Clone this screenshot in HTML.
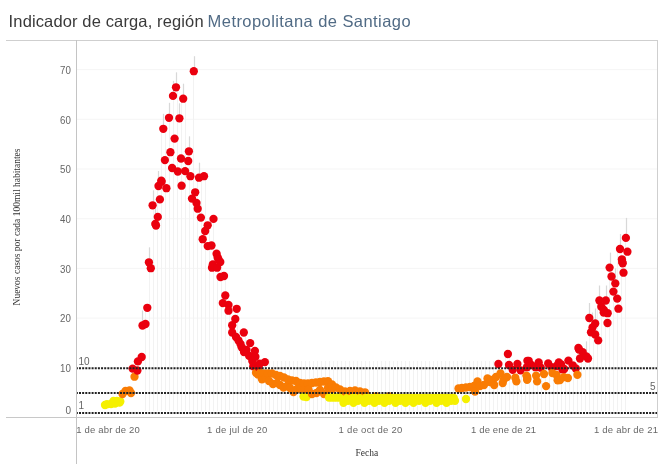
<!DOCTYPE html>
<html><head><meta charset="utf-8"><style>
html,body{margin:0;padding:0;background:#fff;}
body{width:664px;height:474px;overflow:hidden;position:relative;}
svg{position:absolute;left:0;top:0;}
.t{font-family:"Liberation Sans",sans-serif;}
.s{font-family:"Liberation Serif",serif;}
</style></head><body>
<svg width="664" height="474" viewBox="0 0 664 474">
<text class="t" x="8.6" y="26.8" font-size="16.5" fill="#3a3a3a" textLength="195" lengthAdjust="spacing">Indicador de carga, región</text>
<text class="t" x="207.6" y="26.8" font-size="16.5" fill="#516b85" textLength="203" lengthAdjust="spacing">Metropolitana de Santiago</text>
<line x1="6" y1="40.5" x2="658" y2="40.5" stroke="#cfcfcf" stroke-width="1"/>
<line x1="77" y1="367.8" x2="657" y2="367.8" stroke="#f5f5f5" stroke-width="1"/>
<line x1="77" y1="318.1" x2="657" y2="318.1" stroke="#f5f5f5" stroke-width="1"/>
<line x1="77" y1="268.4" x2="657" y2="268.4" stroke="#f5f5f5" stroke-width="1"/>
<line x1="77" y1="218.7" x2="657" y2="218.7" stroke="#f5f5f5" stroke-width="1"/>
<line x1="77" y1="169.0" x2="657" y2="169.0" stroke="#f5f5f5" stroke-width="1"/>
<line x1="77" y1="119.3" x2="657" y2="119.3" stroke="#f5f5f5" stroke-width="1"/>
<line x1="77" y1="69.6" x2="657" y2="69.6" stroke="#f5f5f5" stroke-width="1"/>
<g stroke="#f2f2f2" stroke-width="1"><line x1="145.5" y1="307.8" x2="145.5" y2="411"/><line x1="149.5" y1="262.3" x2="149.5" y2="411"/><line x1="153.5" y1="205.3" x2="153.5" y2="411"/><line x1="157.5" y1="186.0" x2="157.5" y2="411"/><line x1="161.5" y1="128.8" x2="161.5" y2="411"/><line x1="165.5" y1="128.8" x2="165.5" y2="411"/><line x1="169.5" y1="117.8" x2="169.5" y2="411"/><line x1="173.5" y1="87.3" x2="173.5" y2="411"/><line x1="177.5" y1="87.3" x2="177.5" y2="411"/><line x1="181.5" y1="98.7" x2="181.5" y2="411"/><line x1="185.5" y1="98.7" x2="185.5" y2="411"/><line x1="189.5" y1="151.3" x2="189.5" y2="411"/><line x1="193.5" y1="71.2" x2="193.5" y2="411"/><line x1="197.5" y1="177.7" x2="197.5" y2="411"/><line x1="201.5" y1="176.2" x2="201.5" y2="411"/><line x1="205.5" y1="176.2" x2="205.5" y2="411"/><line x1="209.5" y1="225.3" x2="209.5" y2="411"/><line x1="213.5" y1="218.9" x2="213.5" y2="411"/><line x1="217.5" y1="253.7" x2="217.5" y2="411"/><line x1="221.5" y1="262.0" x2="221.5" y2="411"/><line x1="225.5" y1="276.0" x2="225.5" y2="411"/><line x1="229.5" y1="305.0" x2="229.5" y2="411"/><line x1="233.5" y1="319.0" x2="233.5" y2="411"/><line x1="237.5" y1="308.8" x2="237.5" y2="411"/><line x1="241.5" y1="332.5" x2="241.5" y2="411"/><line x1="245.5" y1="332.5" x2="245.5" y2="411"/><line x1="249.5" y1="343.1" x2="249.5" y2="411"/><line x1="253.5" y1="351.0" x2="253.5" y2="411"/><line x1="257.5" y1="351.0" x2="257.5" y2="411"/><line x1="261.5" y1="363.7" x2="261.5" y2="411"/><line x1="265.5" y1="361.0" x2="265.5" y2="411"/><line x1="269.5" y1="361.0" x2="269.5" y2="411"/><line x1="273.5" y1="361.0" x2="273.5" y2="411"/><line x1="277.5" y1="361.0" x2="277.5" y2="411"/><line x1="281.5" y1="361.0" x2="281.5" y2="411"/><line x1="285.5" y1="361.0" x2="285.5" y2="411"/><line x1="289.5" y1="361.0" x2="289.5" y2="411"/><line x1="293.5" y1="361.0" x2="293.5" y2="411"/><line x1="297.5" y1="361.0" x2="297.5" y2="411"/><line x1="301.5" y1="361.0" x2="301.5" y2="411"/><line x1="305.5" y1="361.0" x2="305.5" y2="411"/><line x1="309.5" y1="361.0" x2="309.5" y2="411"/><line x1="313.5" y1="361.0" x2="313.5" y2="411"/><line x1="317.5" y1="361.0" x2="317.5" y2="411"/><line x1="321.5" y1="361.0" x2="321.5" y2="411"/><line x1="325.5" y1="361.0" x2="325.5" y2="411"/><line x1="329.5" y1="361.0" x2="329.5" y2="411"/><line x1="333.5" y1="361.0" x2="333.5" y2="411"/><line x1="337.5" y1="361.0" x2="337.5" y2="411"/><line x1="341.5" y1="361.0" x2="341.5" y2="411"/><line x1="345.5" y1="361.0" x2="345.5" y2="411"/><line x1="349.5" y1="361.0" x2="349.5" y2="411"/><line x1="353.5" y1="361.0" x2="353.5" y2="411"/><line x1="357.5" y1="361.0" x2="357.5" y2="411"/><line x1="361.5" y1="361.0" x2="361.5" y2="411"/><line x1="365.5" y1="361.0" x2="365.5" y2="411"/><line x1="369.5" y1="361.0" x2="369.5" y2="411"/><line x1="373.5" y1="361.0" x2="373.5" y2="411"/><line x1="377.5" y1="361.0" x2="377.5" y2="411"/><line x1="381.5" y1="361.0" x2="381.5" y2="411"/><line x1="385.5" y1="361.0" x2="385.5" y2="411"/><line x1="389.5" y1="361.0" x2="389.5" y2="411"/><line x1="393.5" y1="361.0" x2="393.5" y2="411"/><line x1="397.5" y1="361.0" x2="397.5" y2="411"/><line x1="401.5" y1="361.0" x2="401.5" y2="411"/><line x1="405.5" y1="361.0" x2="405.5" y2="411"/><line x1="409.5" y1="361.0" x2="409.5" y2="411"/><line x1="413.5" y1="361.0" x2="413.5" y2="411"/><line x1="417.5" y1="361.0" x2="417.5" y2="411"/><line x1="421.5" y1="361.0" x2="421.5" y2="411"/><line x1="425.5" y1="361.0" x2="425.5" y2="411"/><line x1="429.5" y1="361.0" x2="429.5" y2="411"/><line x1="433.5" y1="361.0" x2="433.5" y2="411"/><line x1="437.5" y1="361.0" x2="437.5" y2="411"/><line x1="441.5" y1="361.0" x2="441.5" y2="411"/><line x1="445.5" y1="361.0" x2="445.5" y2="411"/><line x1="449.5" y1="361.0" x2="449.5" y2="411"/><line x1="453.5" y1="361.0" x2="453.5" y2="411"/><line x1="457.5" y1="361.0" x2="457.5" y2="411"/><line x1="461.5" y1="361.0" x2="461.5" y2="411"/><line x1="465.5" y1="361.0" x2="465.5" y2="411"/><line x1="469.5" y1="361.0" x2="469.5" y2="411"/><line x1="473.5" y1="361.0" x2="473.5" y2="411"/><line x1="477.5" y1="361.0" x2="477.5" y2="411"/><line x1="481.5" y1="361.0" x2="481.5" y2="411"/><line x1="485.5" y1="361.0" x2="485.5" y2="411"/><line x1="489.5" y1="361.0" x2="489.5" y2="411"/><line x1="493.5" y1="361.0" x2="493.5" y2="411"/><line x1="497.5" y1="361.0" x2="497.5" y2="411"/><line x1="501.5" y1="373.5" x2="501.5" y2="411"/><line x1="505.5" y1="354.0" x2="505.5" y2="411"/><line x1="509.5" y1="354.0" x2="509.5" y2="411"/><line x1="513.5" y1="369.8" x2="513.5" y2="411"/><line x1="517.5" y1="364.0" x2="517.5" y2="411"/><line x1="521.5" y1="370.3" x2="521.5" y2="411"/><line x1="525.5" y1="360.8" x2="525.5" y2="411"/><line x1="529.5" y1="360.8" x2="529.5" y2="411"/><line x1="533.5" y1="365.0" x2="533.5" y2="411"/><line x1="537.5" y1="362.4" x2="537.5" y2="411"/><line x1="541.5" y1="367.7" x2="541.5" y2="411"/><line x1="545.5" y1="374.0" x2="545.5" y2="411"/><line x1="549.5" y1="363.5" x2="549.5" y2="411"/><line x1="553.5" y1="367.2" x2="553.5" y2="411"/><line x1="557.5" y1="362.4" x2="557.5" y2="411"/><line x1="561.5" y1="364.3" x2="561.5" y2="411"/><line x1="565.5" y1="369.0" x2="565.5" y2="411"/><line x1="569.5" y1="360.6" x2="569.5" y2="411"/><line x1="573.5" y1="365.3" x2="573.5" y2="411"/><line x1="577.5" y1="348.0" x2="577.5" y2="411"/><line x1="581.5" y1="349.5" x2="581.5" y2="411"/><line x1="585.5" y1="356.4" x2="585.5" y2="411"/><line x1="589.5" y1="318.0" x2="589.5" y2="411"/><line x1="593.5" y1="323.5" x2="593.5" y2="411"/><line x1="597.5" y1="300.5" x2="597.5" y2="411"/><line x1="601.5" y1="300.5" x2="601.5" y2="411"/><line x1="605.5" y1="300.5" x2="605.5" y2="411"/><line x1="609.5" y1="267.6" x2="609.5" y2="411"/><line x1="613.5" y1="276.5" x2="613.5" y2="411"/><line x1="617.5" y1="249.0" x2="617.5" y2="411"/><line x1="621.5" y1="249.0" x2="621.5" y2="411"/><line x1="625.5" y1="237.9" x2="625.5" y2="411"/></g>
<g stroke="#d8d8d8" stroke-width="1.2"><line x1="142.5" y1="310.5" x2="142.5" y2="325.5"/><line x1="149.5" y1="247.3" x2="149.5" y2="262.3"/><line x1="153.5" y1="190.3" x2="153.5" y2="205.3"/><line x1="155.5" y1="208.9" x2="155.5" y2="223.9"/><line x1="158.5" y1="171.0" x2="158.5" y2="186.0"/><line x1="163.5" y1="113.8" x2="163.5" y2="128.8"/><line x1="169.5" y1="102.8" x2="169.5" y2="117.8"/><line x1="173.5" y1="80.9" x2="173.5" y2="95.9"/><line x1="176.5" y1="72.3" x2="176.5" y2="87.3"/><line x1="179.5" y1="103.3" x2="179.5" y2="118.3"/><line x1="183.5" y1="83.7" x2="183.5" y2="98.7"/><line x1="189.5" y1="136.3" x2="189.5" y2="151.3"/><line x1="194.5" y1="56.2" x2="194.5" y2="71.2"/><line x1="199.5" y1="162.7" x2="199.5" y2="177.7"/><line x1="586.5" y1="341.4" x2="586.5" y2="356.4"/><line x1="589.5" y1="303.0" x2="589.5" y2="318.0"/><line x1="592.5" y1="312.5" x2="592.5" y2="327.5"/><line x1="595.5" y1="308.5" x2="595.5" y2="323.5"/><line x1="599.5" y1="285.5" x2="599.5" y2="300.5"/><line x1="606.5" y1="285.5" x2="606.5" y2="300.5"/><line x1="610.5" y1="252.6" x2="610.5" y2="267.6"/><line x1="615.5" y1="268.4" x2="615.5" y2="283.4"/><line x1="620.5" y1="234.0" x2="620.5" y2="249.0"/><line x1="626.5" y1="217.9" x2="626.5" y2="237.9"/></g>
<g>
<circle cx="105" cy="405" r="4.15" fill="#f5f000"/>
<circle cx="107" cy="404.2" r="4.15" fill="#f5f000"/>
<circle cx="111" cy="404" r="4.15" fill="#f5f000"/>
<circle cx="113.5" cy="401" r="4.15" fill="#f5f000"/>
<circle cx="115" cy="403.5" r="4.15" fill="#f5f000"/>
<circle cx="117" cy="400.8" r="4.15" fill="#f5f000"/>
<circle cx="119.5" cy="402.5" r="4.15" fill="#f5f000"/>
<circle cx="120.3" cy="401.5" r="4.15" fill="#f5f000"/>
<circle cx="122.5" cy="394" r="4.15" fill="#f97c04"/>
<circle cx="125.5" cy="391" r="4.15" fill="#f97c04"/>
<circle cx="129.5" cy="390.5" r="4.15" fill="#f97c04"/>
<circle cx="131" cy="393" r="4.15" fill="#f97c04"/>
<circle cx="132.6" cy="368.6" r="4.15" fill="#ea000e"/>
<circle cx="134.5" cy="376.7" r="4.15" fill="#f97c04"/>
<circle cx="137.4" cy="370.5" r="4.15" fill="#ea000e"/>
<circle cx="137.9" cy="361.4" r="4.15" fill="#ea000e"/>
<circle cx="141.7" cy="357" r="4.15" fill="#ea000e"/>
<circle cx="142.5" cy="325.5" r="4.15" fill="#ea000e"/>
<circle cx="145.5" cy="324" r="4.15" fill="#ea000e"/>
<circle cx="147.3" cy="307.8" r="4.15" fill="#ea000e"/>
<circle cx="148.9" cy="262.3" r="4.15" fill="#ea000e"/>
<circle cx="150.8" cy="268.2" r="4.15" fill="#ea000e"/>
<circle cx="152.6" cy="205.3" r="4.15" fill="#ea000e"/>
<circle cx="155.3" cy="223.9" r="4.15" fill="#ea000e"/>
<circle cx="156" cy="225.5" r="4.15" fill="#ea000e"/>
<circle cx="157.8" cy="216.9" r="4.15" fill="#ea000e"/>
<circle cx="158.5" cy="186" r="4.15" fill="#ea000e"/>
<circle cx="159.9" cy="199.4" r="4.15" fill="#ea000e"/>
<circle cx="161.3" cy="180.6" r="4.15" fill="#ea000e"/>
<circle cx="161.6" cy="181.7" r="4.15" fill="#ea000e"/>
<circle cx="163.3" cy="128.8" r="4.15" fill="#ea000e"/>
<circle cx="164.9" cy="160.1" r="4.15" fill="#ea000e"/>
<circle cx="166.4" cy="188.2" r="4.15" fill="#ea000e"/>
<circle cx="169" cy="117.8" r="4.15" fill="#ea000e"/>
<circle cx="170.4" cy="152.2" r="4.15" fill="#ea000e"/>
<circle cx="172.1" cy="168" r="4.15" fill="#ea000e"/>
<circle cx="173" cy="95.9" r="4.15" fill="#ea000e"/>
<circle cx="174.6" cy="138.6" r="4.15" fill="#ea000e"/>
<circle cx="176" cy="87.3" r="4.15" fill="#ea000e"/>
<circle cx="177.8" cy="171.5" r="4.15" fill="#ea000e"/>
<circle cx="179.4" cy="118.3" r="4.15" fill="#ea000e"/>
<circle cx="181" cy="158.5" r="4.15" fill="#ea000e"/>
<circle cx="181.6" cy="185.7" r="4.15" fill="#ea000e"/>
<circle cx="183.2" cy="98.7" r="4.15" fill="#ea000e"/>
<circle cx="185.1" cy="171.1" r="4.15" fill="#ea000e"/>
<circle cx="188.2" cy="161" r="4.15" fill="#ea000e"/>
<circle cx="188.9" cy="151.3" r="4.15" fill="#ea000e"/>
<circle cx="190.4" cy="176.2" r="4.15" fill="#ea000e"/>
<circle cx="192" cy="198.6" r="4.15" fill="#ea000e"/>
<circle cx="193.8" cy="71.2" r="4.15" fill="#ea000e"/>
<circle cx="195.2" cy="192.3" r="4.15" fill="#ea000e"/>
<circle cx="196.5" cy="203" r="4.15" fill="#ea000e"/>
<circle cx="197.7" cy="208.7" r="4.15" fill="#ea000e"/>
<circle cx="199" cy="177.7" r="4.15" fill="#ea000e"/>
<circle cx="200.9" cy="217.6" r="4.15" fill="#ea000e"/>
<circle cx="202.7" cy="239.2" r="4.15" fill="#ea000e"/>
<circle cx="204" cy="176.2" r="4.15" fill="#ea000e"/>
<circle cx="205.2" cy="231" r="4.15" fill="#ea000e"/>
<circle cx="207.7" cy="225.3" r="4.15" fill="#ea000e"/>
<circle cx="207.7" cy="246.1" r="4.15" fill="#ea000e"/>
<circle cx="211.5" cy="245.5" r="4.15" fill="#ea000e"/>
<circle cx="212" cy="267.7" r="4.15" fill="#ea000e"/>
<circle cx="212.8" cy="264.5" r="4.15" fill="#ea000e"/>
<circle cx="213.5" cy="218.9" r="4.15" fill="#ea000e"/>
<circle cx="216.6" cy="253.7" r="4.15" fill="#ea000e"/>
<circle cx="217.1" cy="267.7" r="4.15" fill="#ea000e"/>
<circle cx="217.7" cy="257.5" r="4.15" fill="#ea000e"/>
<circle cx="218.5" cy="259.4" r="4.15" fill="#ea000e"/>
<circle cx="220.3" cy="262" r="4.15" fill="#ea000e"/>
<circle cx="220.5" cy="277" r="4.15" fill="#ea000e"/>
<circle cx="222.8" cy="303.1" r="4.15" fill="#ea000e"/>
<circle cx="224" cy="276" r="4.15" fill="#ea000e"/>
<circle cx="225.3" cy="295.5" r="4.15" fill="#ea000e"/>
<circle cx="228.5" cy="305" r="4.15" fill="#ea000e"/>
<circle cx="228.5" cy="310.7" r="4.15" fill="#ea000e"/>
<circle cx="232.2" cy="325.2" r="4.15" fill="#ea000e"/>
<circle cx="232.2" cy="332.5" r="4.15" fill="#ea000e"/>
<circle cx="235.3" cy="319" r="4.15" fill="#ea000e"/>
<circle cx="236" cy="337" r="4.15" fill="#ea000e"/>
<circle cx="236.7" cy="308.8" r="4.15" fill="#ea000e"/>
<circle cx="238.5" cy="340.5" r="4.15" fill="#ea000e"/>
<circle cx="240.5" cy="344" r="4.15" fill="#ea000e"/>
<circle cx="241.7" cy="347.3" r="4.15" fill="#ea000e"/>
<circle cx="243.8" cy="332.5" r="4.15" fill="#ea000e"/>
<circle cx="244" cy="352" r="4.15" fill="#ea000e"/>
<circle cx="246.5" cy="350" r="4.15" fill="#ea000e"/>
<circle cx="249.1" cy="355.8" r="4.15" fill="#ea000e"/>
<circle cx="250.2" cy="343.1" r="4.15" fill="#ea000e"/>
<circle cx="252.3" cy="361" r="4.15" fill="#ea000e"/>
<circle cx="253.3" cy="366.3" r="4.15" fill="#ea000e"/>
<circle cx="254.9" cy="351" r="4.15" fill="#ea000e"/>
<circle cx="255.4" cy="356.8" r="4.15" fill="#ea000e"/>
<circle cx="256" cy="372.8" r="4.15" fill="#f97c04"/>
<circle cx="258" cy="374.5" r="4.15" fill="#f97c04"/>
<circle cx="258.6" cy="367.4" r="4.15" fill="#ea000e"/>
<circle cx="259.6" cy="363.7" r="4.15" fill="#ea000e"/>
<circle cx="260" cy="373" r="4.15" fill="#f97c04"/>
<circle cx="262" cy="379.3" r="4.15" fill="#f97c04"/>
<circle cx="264" cy="373.5" r="4.15" fill="#f97c04"/>
<circle cx="264.9" cy="362.1" r="4.15" fill="#ea000e"/>
<circle cx="266" cy="378" r="4.15" fill="#f97c04"/>
<circle cx="268" cy="373.5" r="4.15" fill="#f97c04"/>
<circle cx="269" cy="381" r="4.15" fill="#f97c04"/>
<circle cx="272" cy="373.5" r="4.15" fill="#f97c04"/>
<circle cx="273" cy="384" r="4.15" fill="#f97c04"/>
<circle cx="303.5" cy="396.5" r="4.15" fill="#f5f000"/>
<circle cx="276" cy="375" r="4.15" fill="#f97c04"/>
<circle cx="306.5" cy="397" r="4.15" fill="#f5f000"/>
<circle cx="277" cy="383" r="4.15" fill="#f97c04"/>
<circle cx="280" cy="376" r="4.15" fill="#f97c04"/>
<circle cx="280" cy="385" r="4.15" fill="#f97c04"/>
<circle cx="283.5" cy="387.5" r="4.15" fill="#f97c04"/>
<circle cx="284" cy="377.5" r="4.15" fill="#f97c04"/>
<circle cx="287" cy="386" r="4.15" fill="#f97c04"/>
<circle cx="288" cy="379.5" r="4.15" fill="#f97c04"/>
<circle cx="290" cy="388" r="4.15" fill="#f97c04"/>
<circle cx="292" cy="380.5" r="4.15" fill="#f97c04"/>
<circle cx="293.5" cy="392" r="4.15" fill="#f97c04"/>
<circle cx="296" cy="381" r="4.15" fill="#f97c04"/>
<circle cx="297" cy="389" r="4.15" fill="#f97c04"/>
<circle cx="300" cy="383" r="4.15" fill="#f97c04"/>
<circle cx="301" cy="388.5" r="4.15" fill="#f97c04"/>
<circle cx="304" cy="383.5" r="4.15" fill="#f97c04"/>
<circle cx="305" cy="389" r="4.15" fill="#f97c04"/>
<circle cx="308" cy="383.5" r="4.15" fill="#f97c04"/>
<circle cx="308.5" cy="389.5" r="4.15" fill="#f97c04"/>
<circle cx="312" cy="383" r="4.15" fill="#f97c04"/>
<circle cx="312" cy="394" r="4.15" fill="#f97c04"/>
<circle cx="316" cy="382.5" r="4.15" fill="#f97c04"/>
<circle cx="316.5" cy="393" r="4.15" fill="#f97c04"/>
<circle cx="320" cy="382" r="4.15" fill="#f97c04"/>
<circle cx="320" cy="390" r="4.15" fill="#f97c04"/>
<circle cx="324" cy="381.5" r="4.15" fill="#f97c04"/>
<circle cx="324" cy="394" r="4.15" fill="#f97c04"/>
<circle cx="328" cy="381.2" r="4.15" fill="#f97c04"/>
<circle cx="328" cy="388" r="4.15" fill="#f97c04"/>
<circle cx="329.0" cy="397.5" r="4.15" fill="#f5f000"/>
<circle cx="331.6" cy="397.5" r="4.15" fill="#f5f000"/>
<circle cx="332" cy="384.5" r="4.15" fill="#f97c04"/>
<circle cx="332" cy="389" r="4.15" fill="#f97c04"/>
<circle cx="334.2" cy="397.5" r="4.15" fill="#f5f000"/>
<circle cx="336" cy="387.5" r="4.15" fill="#f97c04"/>
<circle cx="336.8" cy="397.5" r="4.15" fill="#f5f000"/>
<circle cx="339.4" cy="397.5" r="4.15" fill="#f5f000"/>
<circle cx="340" cy="389.5" r="4.15" fill="#f97c04"/>
<circle cx="342.0" cy="397.5" r="4.15" fill="#f5f000"/>
<circle cx="343.5" cy="402.8" r="4.15" fill="#f5f000"/>
<circle cx="344.6" cy="397.5" r="4.15" fill="#f5f000"/>
<circle cx="345" cy="391.5" r="4.15" fill="#f97c04"/>
<circle cx="376" cy="396.5" r="4.15" fill="#f97c04"/>
<circle cx="347.2" cy="398.0" r="4.15" fill="#f5f000"/>
<circle cx="348" cy="400.8" r="4.15" fill="#f5f000"/>
<circle cx="349.8" cy="398.0" r="4.15" fill="#f5f000"/>
<circle cx="350" cy="391" r="4.15" fill="#f97c04"/>
<circle cx="352.4" cy="398.0" r="4.15" fill="#f5f000"/>
<circle cx="353.5" cy="402.8" r="4.15" fill="#f5f000"/>
<circle cx="355" cy="390.5" r="4.15" fill="#f97c04"/>
<circle cx="355.0" cy="398.0" r="4.15" fill="#f5f000"/>
<circle cx="357.6" cy="398.0" r="4.15" fill="#f5f000"/>
<circle cx="358" cy="400.8" r="4.15" fill="#f5f000"/>
<circle cx="389" cy="396.5" r="4.15" fill="#f97c04"/>
<circle cx="360" cy="391.5" r="4.15" fill="#f97c04"/>
<circle cx="360.2" cy="398.0" r="4.15" fill="#f5f000"/>
<circle cx="362.8" cy="398.0" r="4.15" fill="#f5f000"/>
<circle cx="364.5" cy="402.8" r="4.15" fill="#f5f000"/>
<circle cx="365" cy="392.3" r="4.15" fill="#f97c04"/>
<circle cx="365.4" cy="398.0" r="4.15" fill="#f5f000"/>
<circle cx="368.0" cy="398.0" r="4.15" fill="#f5f000"/>
<circle cx="369" cy="400.8" r="4.15" fill="#f5f000"/>
<circle cx="370.6" cy="398.0" r="4.15" fill="#f5f000"/>
<circle cx="373.2" cy="398.0" r="4.15" fill="#f5f000"/>
<circle cx="374.5" cy="402.8" r="4.15" fill="#f5f000"/>
<circle cx="375.8" cy="398.0" r="4.15" fill="#f5f000"/>
<circle cx="378.4" cy="398.0" r="4.15" fill="#f5f000"/>
<circle cx="379" cy="400.8" r="4.15" fill="#f5f000"/>
<circle cx="381.0" cy="398.0" r="4.15" fill="#f5f000"/>
<circle cx="383.6" cy="398.0" r="4.15" fill="#f5f000"/>
<circle cx="384.5" cy="402.8" r="4.15" fill="#f5f000"/>
<circle cx="386.2" cy="398.0" r="4.15" fill="#f5f000"/>
<circle cx="388.8" cy="398.0" r="4.15" fill="#f5f000"/>
<circle cx="389" cy="400.8" r="4.15" fill="#f5f000"/>
<circle cx="391.4" cy="398.0" r="4.15" fill="#f5f000"/>
<circle cx="394.0" cy="398.0" r="4.15" fill="#f5f000"/>
<circle cx="395.5" cy="402.8" r="4.15" fill="#f5f000"/>
<circle cx="396.6" cy="398.0" r="4.15" fill="#f5f000"/>
<circle cx="399.2" cy="398.0" r="4.15" fill="#f5f000"/>
<circle cx="400" cy="400.8" r="4.15" fill="#f5f000"/>
<circle cx="401.8" cy="398.0" r="4.15" fill="#f5f000"/>
<circle cx="404.4" cy="398.0" r="4.15" fill="#f5f000"/>
<circle cx="405.5" cy="402.8" r="4.15" fill="#f5f000"/>
<circle cx="407.0" cy="398.0" r="4.15" fill="#f5f000"/>
<circle cx="409" cy="400.8" r="4.15" fill="#f5f000"/>
<circle cx="409.6" cy="398.0" r="4.15" fill="#f5f000"/>
<circle cx="412.2" cy="398.0" r="4.15" fill="#f5f000"/>
<circle cx="413.5" cy="402.8" r="4.15" fill="#f5f000"/>
<circle cx="414.8" cy="398.0" r="4.15" fill="#f5f000"/>
<circle cx="417.4" cy="398.0" r="4.15" fill="#f5f000"/>
<circle cx="419" cy="400.8" r="4.15" fill="#f5f000"/>
<circle cx="420.0" cy="398.0" r="4.15" fill="#f5f000"/>
<circle cx="422.6" cy="398.0" r="4.15" fill="#f5f000"/>
<circle cx="425.2" cy="398.0" r="4.15" fill="#f5f000"/>
<circle cx="425.5" cy="402.8" r="4.15" fill="#f5f000"/>
<circle cx="427.8" cy="398.0" r="4.15" fill="#f5f000"/>
<circle cx="430" cy="400.8" r="4.15" fill="#f5f000"/>
<circle cx="430.4" cy="398.0" r="4.15" fill="#f5f000"/>
<circle cx="433.0" cy="398.0" r="4.15" fill="#f5f000"/>
<circle cx="435.6" cy="398.0" r="4.15" fill="#f5f000"/>
<circle cx="436.5" cy="402.8" r="4.15" fill="#f5f000"/>
<circle cx="438.2" cy="398.0" r="4.15" fill="#f5f000"/>
<circle cx="440.8" cy="398.0" r="4.15" fill="#f5f000"/>
<circle cx="441" cy="400.8" r="4.15" fill="#f5f000"/>
<circle cx="443.4" cy="398.0" r="4.15" fill="#f5f000"/>
<circle cx="446.0" cy="398.0" r="4.15" fill="#f5f000"/>
<circle cx="446.5" cy="402.8" r="4.15" fill="#f5f000"/>
<circle cx="448.6" cy="398.0" r="4.15" fill="#f5f000"/>
<circle cx="451" cy="400.8" r="4.15" fill="#f5f000"/>
<circle cx="451.2" cy="398.0" r="4.15" fill="#f5f000"/>
<circle cx="453.8" cy="398.0" r="4.15" fill="#f5f000"/>
<circle cx="455" cy="400.8" r="4.15" fill="#f5f000"/>
<circle cx="458.5" cy="388.5" r="4.15" fill="#f97c04"/>
<circle cx="462" cy="388" r="4.15" fill="#f97c04"/>
<circle cx="466" cy="387.5" r="4.15" fill="#f97c04"/>
<circle cx="466" cy="399" r="4.15" fill="#f5f000"/>
<circle cx="470" cy="387" r="4.15" fill="#f97c04"/>
<circle cx="474" cy="386" r="4.15" fill="#f97c04"/>
<circle cx="475" cy="391.5" r="4.15" fill="#f97c04"/>
<circle cx="477.5" cy="381.5" r="4.15" fill="#f97c04"/>
<circle cx="480" cy="386" r="4.15" fill="#f97c04"/>
<circle cx="484" cy="385" r="4.15" fill="#f97c04"/>
<circle cx="487.5" cy="378.5" r="4.15" fill="#f97c04"/>
<circle cx="490" cy="382" r="4.15" fill="#f97c04"/>
<circle cx="491" cy="379.8" r="4.15" fill="#f97c04"/>
<circle cx="493" cy="380" r="4.15" fill="#f97c04"/>
<circle cx="494.2" cy="385" r="4.15" fill="#f97c04"/>
<circle cx="496" cy="377" r="4.15" fill="#f97c04"/>
<circle cx="498.4" cy="364" r="4.15" fill="#ea000e"/>
<circle cx="500.5" cy="373.5" r="4.15" fill="#f97c04"/>
<circle cx="502.7" cy="383" r="4.15" fill="#f97c04"/>
<circle cx="503.7" cy="379.8" r="4.15" fill="#f97c04"/>
<circle cx="507" cy="377" r="4.15" fill="#f97c04"/>
<circle cx="507.9" cy="354" r="4.15" fill="#ea000e"/>
<circle cx="509" cy="365" r="4.15" fill="#ea000e"/>
<circle cx="512.7" cy="369.8" r="4.15" fill="#ea000e"/>
<circle cx="515.3" cy="377.7" r="4.15" fill="#f97c04"/>
<circle cx="516.4" cy="381.4" r="4.15" fill="#f97c04"/>
<circle cx="517.4" cy="364" r="4.15" fill="#ea000e"/>
<circle cx="520.6" cy="370.3" r="4.15" fill="#ea000e"/>
<circle cx="526.4" cy="375.6" r="4.15" fill="#f97c04"/>
<circle cx="526.9" cy="367.2" r="4.15" fill="#ea000e"/>
<circle cx="527.1" cy="376.6" r="4.15" fill="#f97c04"/>
<circle cx="527.1" cy="379.8" r="4.15" fill="#f97c04"/>
<circle cx="527.4" cy="360.8" r="4.15" fill="#ea000e"/>
<circle cx="527.4" cy="378.8" r="4.15" fill="#f97c04"/>
<circle cx="528.7" cy="360.8" r="4.15" fill="#ea000e"/>
<circle cx="531.3" cy="365" r="4.15" fill="#ea000e"/>
<circle cx="535.5" cy="367.2" r="4.15" fill="#ea000e"/>
<circle cx="536.1" cy="375.6" r="4.15" fill="#f97c04"/>
<circle cx="537.1" cy="381.4" r="4.15" fill="#f97c04"/>
<circle cx="538.7" cy="362.4" r="4.15" fill="#ea000e"/>
<circle cx="540.8" cy="367.7" r="4.15" fill="#ea000e"/>
<circle cx="544" cy="374" r="4.15" fill="#f97c04"/>
<circle cx="546.1" cy="386.1" r="4.15" fill="#f97c04"/>
<circle cx="548.2" cy="363.5" r="4.15" fill="#ea000e"/>
<circle cx="551.4" cy="367.2" r="4.15" fill="#ea000e"/>
<circle cx="552.4" cy="373" r="4.15" fill="#f97c04"/>
<circle cx="556.6" cy="366" r="4.15" fill="#ea000e"/>
<circle cx="556.6" cy="375" r="4.15" fill="#f97c04"/>
<circle cx="557.7" cy="380.3" r="4.15" fill="#f97c04"/>
<circle cx="558.8" cy="362.4" r="4.15" fill="#ea000e"/>
<circle cx="560" cy="380" r="4.15" fill="#f97c04"/>
<circle cx="561" cy="364.3" r="4.15" fill="#ea000e"/>
<circle cx="562.4" cy="369.3" r="4.15" fill="#ea000e"/>
<circle cx="564" cy="377.2" r="4.15" fill="#f97c04"/>
<circle cx="564.2" cy="369" r="4.15" fill="#ea000e"/>
<circle cx="567.9" cy="378" r="4.15" fill="#f97c04"/>
<circle cx="568.4" cy="360.6" r="4.15" fill="#ea000e"/>
<circle cx="572.7" cy="365.3" r="4.15" fill="#ea000e"/>
<circle cx="575.8" cy="368.5" r="4.15" fill="#ea000e"/>
<circle cx="577.4" cy="374.8" r="4.15" fill="#f97c04"/>
<circle cx="578.4" cy="348" r="4.15" fill="#ea000e"/>
<circle cx="579" cy="349.5" r="4.15" fill="#ea000e"/>
<circle cx="580" cy="358.5" r="4.15" fill="#ea000e"/>
<circle cx="582.7" cy="352.1" r="4.15" fill="#ea000e"/>
<circle cx="586.4" cy="356.4" r="4.15" fill="#ea000e"/>
<circle cx="588" cy="358.5" r="4.15" fill="#ea000e"/>
<circle cx="589.3" cy="318" r="4.15" fill="#ea000e"/>
<circle cx="591" cy="332.3" r="4.15" fill="#ea000e"/>
<circle cx="592.5" cy="327.5" r="4.15" fill="#ea000e"/>
<circle cx="595.2" cy="323.5" r="4.15" fill="#ea000e"/>
<circle cx="595.2" cy="334.5" r="4.15" fill="#ea000e"/>
<circle cx="598.2" cy="340.4" r="4.15" fill="#ea000e"/>
<circle cx="599.4" cy="300.5" r="4.15" fill="#ea000e"/>
<circle cx="601.3" cy="306.8" r="4.15" fill="#ea000e"/>
<circle cx="603.7" cy="312.5" r="4.15" fill="#ea000e"/>
<circle cx="603.9" cy="310" r="4.15" fill="#ea000e"/>
<circle cx="605.8" cy="300.5" r="4.15" fill="#ea000e"/>
<circle cx="607.5" cy="323" r="4.15" fill="#ea000e"/>
<circle cx="607.7" cy="313.2" r="4.15" fill="#ea000e"/>
<circle cx="609.6" cy="267.6" r="4.15" fill="#ea000e"/>
<circle cx="611.5" cy="276.5" r="4.15" fill="#ea000e"/>
<circle cx="613.4" cy="291.6" r="4.15" fill="#ea000e"/>
<circle cx="615.3" cy="283.4" r="4.15" fill="#ea000e"/>
<circle cx="617.2" cy="298.6" r="4.15" fill="#ea000e"/>
<circle cx="618.4" cy="308.7" r="4.15" fill="#ea000e"/>
<circle cx="620" cy="249" r="4.15" fill="#ea000e"/>
<circle cx="621.9" cy="259.3" r="4.15" fill="#ea000e"/>
<circle cx="622.2" cy="261.9" r="4.15" fill="#ea000e"/>
<circle cx="622.7" cy="263.3" r="4.15" fill="#ea000e"/>
<circle cx="623.5" cy="272.7" r="4.15" fill="#ea000e"/>
<circle cx="625.9" cy="237.9" r="4.15" fill="#ea000e"/>
<circle cx="627.4" cy="251.7" r="4.15" fill="#ea000e"/>
</g>
<line x1="77" y1="368.15" x2="657" y2="368.15" stroke="#222" stroke-width="2" stroke-dasharray="2 1.15" stroke-dashoffset="1.15"/>
<line x1="77" y1="393.00" x2="657" y2="393.00" stroke="#222" stroke-width="2" stroke-dasharray="2 1.15" stroke-dashoffset="1.15"/>
<line x1="77" y1="412.88" x2="657" y2="412.88" stroke="#222" stroke-width="2" stroke-dasharray="2 1.15" stroke-dashoffset="1.15"/>
<line x1="6" y1="417.5" x2="658" y2="417.5" stroke="#c8c8c8" stroke-width="1"/>
<line x1="76.5" y1="40" x2="76.5" y2="464" stroke="#c4c4c4" stroke-width="1"/>
<line x1="657.5" y1="40" x2="657.5" y2="417.5" stroke="#cfcfcf" stroke-width="1"/>
<text class="t" x="60" y="372.1" font-size="10" fill="#666" textLength="10.8" lengthAdjust="spacingAndGlyphs">10</text>
<text class="t" x="60" y="322.4" font-size="10" fill="#666" textLength="10.8" lengthAdjust="spacingAndGlyphs">20</text>
<text class="t" x="60" y="272.7" font-size="10" fill="#666" textLength="10.8" lengthAdjust="spacingAndGlyphs">30</text>
<text class="t" x="60" y="223.0" font-size="10" fill="#666" textLength="10.8" lengthAdjust="spacingAndGlyphs">40</text>
<text class="t" x="60" y="173.3" font-size="10" fill="#666" textLength="10.8" lengthAdjust="spacingAndGlyphs">50</text>
<text class="t" x="60" y="123.6" font-size="10" fill="#666" textLength="10.8" lengthAdjust="spacingAndGlyphs">60</text>
<text class="t" x="60" y="73.9" font-size="10" fill="#666" textLength="10.8" lengthAdjust="spacingAndGlyphs">70</text>
<text class="t" x="71" y="414" font-size="10" fill="#666" text-anchor="end">0</text>
<text class="t" x="78.5" y="364.5" font-size="10" fill="#666">10</text>
<text class="t" x="78.5" y="409" font-size="10" fill="#666">1</text>
<text class="t" x="655.5" y="389.5" font-size="10" fill="#666" text-anchor="end">5</text>
<text class="t" x="76.2" y="432.8" font-size="9.5" fill="#686868" textLength="63.6" lengthAdjust="spacing">1 de abr de 20</text>
<text class="t" x="207.1" y="432.8" font-size="9.5" fill="#686868" textLength="60.2" lengthAdjust="spacing">1 de jul de 20</text>
<text class="t" x="338.59999999999997" y="432.8" font-size="9.5" fill="#686868" textLength="63.8" lengthAdjust="spacing">1 de oct de 20</text>
<text class="t" x="471.09999999999997" y="432.8" font-size="9.5" fill="#686868" textLength="65.0" lengthAdjust="spacing">1 de ene de 21</text>
<text class="t" x="594.0" y="432.8" font-size="9.5" fill="#686868" textLength="64.0" lengthAdjust="spacing">1 de abr de 21</text>
<text class="s" x="366.8" y="456" font-size="9.5" fill="#333" text-anchor="middle">Fecha</text>
<text class="s" transform="translate(19.5,227) rotate(-90)" font-size="9.5" fill="#333" text-anchor="middle">Nuevos casos por cada 100mil habitantes</text>
</svg></body></html>
